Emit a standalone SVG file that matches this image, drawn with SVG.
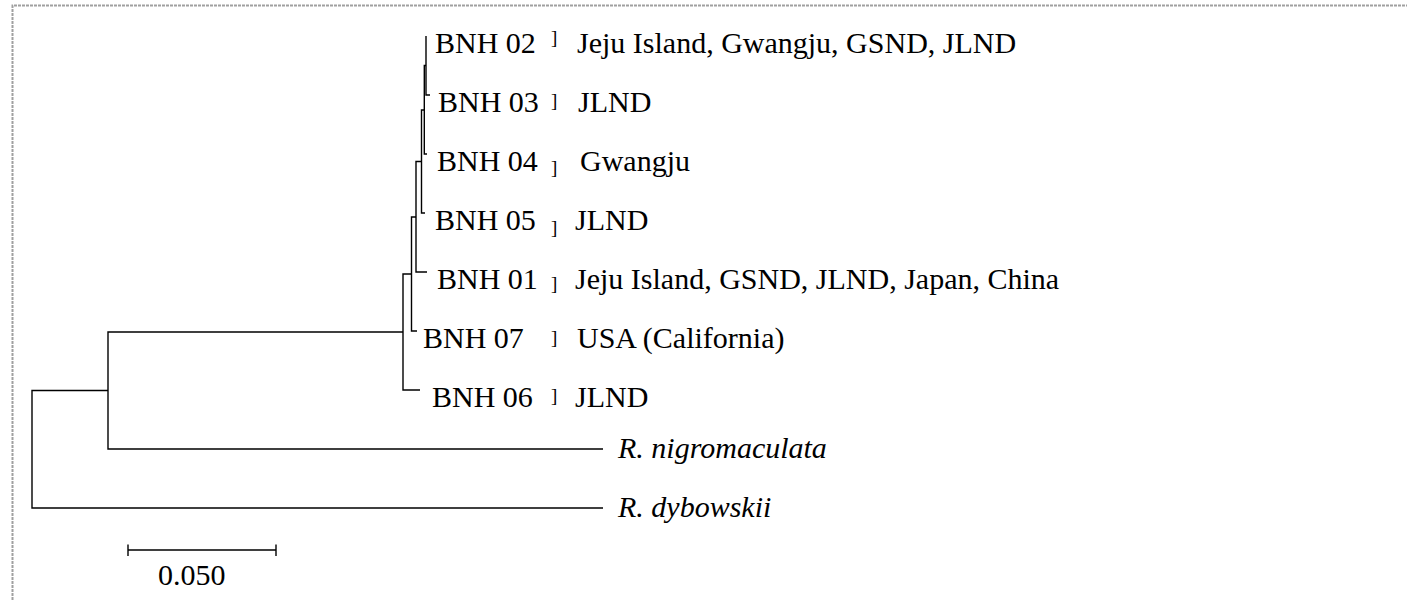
<svg xmlns="http://www.w3.org/2000/svg" width="1407" height="608" viewBox="0 0 1407 608">
<style>
.lbl{font-family:"Liberation Serif","Times New Roman",serif;font-size:30px;fill:#000}
.it{font-style:italic}
.br{font-family:"Liberation Serif","Times New Roman",serif;font-size:19px;fill:#000}
.edge{fill:none;stroke:#000;stroke-width:1.4}
.frame{fill:none;stroke:#a0a0a0;stroke-width:2;stroke-dasharray:3 1}
</style>
<rect x="0" y="0" width="1407" height="608" fill="#fff"/>
<path class="frame" d="M12.5 600 V5.5 H1407"/>
<g id="connectors">
  <path class="edge" d="M426 36 V95 H430"/>
  <path class="edge" d="M426 65.5 H424.3 V154 H427"/>
  <path class="edge" d="M424.3 110 H421.5 V213 H425"/>
  <path class="edge" d="M421.5 161.5 H416 V272 H427"/>
  <path class="edge" d="M416 217 H411.5 V331 H417"/>
  <path class="edge" d="M411.5 274 H403 V390 H420"/>
  <path class="edge" d="M403 332 H108 V449 H603"/>
  <path class="edge" d="M108 390.5 H32 V508 H603"/>
</g>
<g id="BNH02"><text class="lbl" x="435" y="53">BNH 02</text><text class="br" x="551" y="44">]</text><text class="lbl" x="577" y="53">Jeju Island, Gwangju, GSND, JLND</text></g>
<g id="BNH03"><text class="lbl" x="438" y="112">BNH 03</text><text class="br" x="551" y="107">]</text><text class="lbl" x="578" y="112">JLND</text></g>
<g id="BNH04"><text class="lbl" x="437" y="171">BNH 04</text><text class="br" x="551" y="174">]</text><text class="lbl" x="580" y="171">Gwangju</text></g>
<g id="BNH05"><text class="lbl" x="435" y="230">BNH 05</text><text class="br" x="551" y="234">]</text><text class="lbl" x="575" y="230">JLND</text></g>
<g id="BNH01"><text class="lbl" x="437" y="289">BNH 01</text><text class="br" x="551" y="290">]</text><text class="lbl" x="575" y="289">Jeju Island, GSND, JLND, Japan, China</text></g>
<g id="BNH07"><text class="lbl" x="423" y="348">BNH 07</text><text class="br" x="551" y="344">]</text><text class="lbl" x="577" y="348">USA (California)</text></g>
<g id="BNH06"><text class="lbl" x="432" y="407">BNH 06</text><text class="br" x="551" y="402">]</text><text class="lbl" x="575" y="407">JLND</text></g>
<g id="Rnigromaculata"><text class="lbl it" x="618" y="458">R. nigromaculata</text></g>
<g id="Rdybowskii"><text class="lbl it" x="618" y="517">R. dybowskii</text></g>
<g id="scalebar">
  <path class="edge" d="M128 550 H276 M128 544.5 V556 M276 544.5 V556" stroke="#333"/>
  <text class="lbl" x="158" y="585">0.050</text>
</g>
</svg>
